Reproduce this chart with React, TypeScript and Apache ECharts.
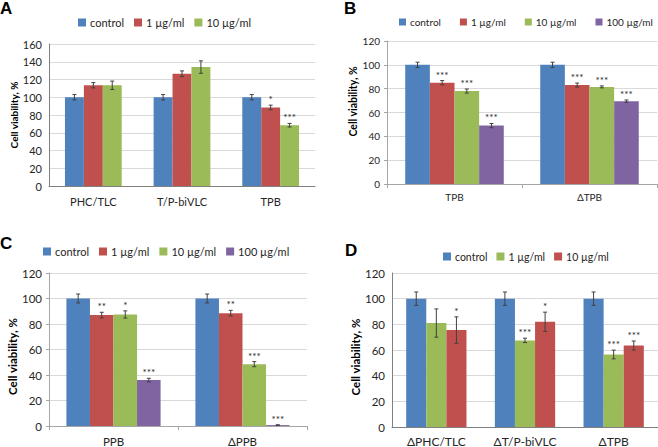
import React, { useEffect, useRef } from 'react';
import * as echarts from 'echarts';

const BLUE = '#4F81BD';
const RED = '#C0504D';
const GREEN = '#9BBB59';
const PURPLE = '#8064A2';

// Panel A
const catsA = ['PHC/TLC', 'T/P-biVLC', 'TPB'];
const namesA = ['control', '1 µg/ml', '10 µg/ml'];
const colorsA = [BLUE, RED, GREEN];
const valsA = [[100, 100, 100], [113.5, 126.5, 88.5], [113.5, 134, 68.5]];
const errsA = [[3, 3, 3], [3, 3.2, 2.6], [4.7, 7, 2]];
const starsA = [['', '', ''], ['', '', '*'], ['', '', '***']];

// Panel B
const catsB = ['TPB', 'ΔTPB'];
const namesB = ['control', '1 µg/ml', '10 µg/ml', '100 µg/ml'];
const colorsB = [BLUE, RED, GREEN, PURPLE];
const valsB = [[100, 100], [85, 83], [78, 81.5], [49, 69.5]];
const errsB = [[2.2, 2.2], [1.8, 1.7], [1.7, 0.8], [1.8, 1]];
const starsB = [['', ''], ['***', '***'], ['***', '***'], ['***', '***']];

// Panel C
const catsC = ['PPB', 'ΔPPB'];
const namesC = ['control', '1 µg/ml', '10 µg/ml', '100 µg/ml'];
const colorsC = [BLUE, RED, GREEN, PURPLE];
const valsC = [[100, 100], [87, 88.5], [87.5, 48.5], [36, 0.7]];
const errsC = [[3.5, 3.5], [2.2, 2.2], [2.8, 2], [1.4, 0.3]];
const starsC = [['', ''], ['**', '**'], ['*', '***'], ['***', '***']];

// Panel D
const catsD = ['ΔPHC/TLC', 'ΔT/P-biVLC', 'ΔTPB'];
const namesD = ['control', '1 µg/ml', '10 µg/ml'];
const colorsD = [BLUE, GREEN, RED];
const valsD = [[100, 100, 100], [81, 67.5, 56.5], [75.5, 82, 63.5]];
const errsD = [[5.2, 5.2, 5.2], [11, 1.7, 3.4], [10.3, 7.5, 3.5]];
const starsD = [['', '', ''], ['', '***', '***'], ['*', '*', '***']];

const yTicks120 = [0, 20, 40, 60, 80, 100, 120];
const yTicks160 = [0, 20, 40, 60, 80, 100, 120, 140, 160];

const FONT = 'Lato';

type PanelCfg = {
  id: string;
  idx: number;
  cats: string[];
  names: string[];
  colors: string[];
  vals: number[][];
  errs: number[][];
  stars: string[][];
  grid: { left: number; top: number; width: number; height: number };
  ymax: number;
  gap: number;
  legend: { left: number; top: number; gap: number; size: number; icon: number };
  tickFont: number;
  catFont: number;
  catMargin: number;
  nameFont: number;
  nameGap: number;
  namePad: number[];
  axisColor: string;
  ticks: boolean;
};

const panels: PanelCfg[] = [
  {
    id: 'A', idx: 0, cats: catsA, names: namesA, colors: colorsA, vals: valsA, errs: errsA, stars: starsA,
    grid: { left: 49, top: 44, width: 266, height: 142 }, ymax: yTicks160[yTicks160.length - 1], gap: 0.36,
    legend: { left: 78, top: 17, gap: 10, size: 11, icon: 8 },
    tickFont: 11, catFont: 11, catMargin: 10, nameFont: 10, nameGap: 28, namePad: [0, 0, 0, 0],
    axisColor: '#808080', ticks: false,
  },
  {
    id: 'B', idx: 1, cats: catsB, names: namesB, colors: colorsB, vals: valsB, errs: errsB, stars: starsB,
    grid: { left: 387, top: 41, width: 270, height: 143 }, ymax: yTicks120[yTicks120.length - 1], gap: 0.27,
    legend: { left: 399, top: 17, gap: 19, size: 10, icon: 7 },
    tickFont: 10, catFont: 10, catMargin: 8, nameFont: 10.5, nameGap: 24, namePad: [0, 0, 0, 22],
    axisColor: '#a6a6a6', ticks: true,
  },
  {
    id: 'C', idx: 2, cats: catsC, names: namesC, colors: colorsC, vals: valsC, errs: errsC, stars: starsC,
    grid: { left: 49, top: 273, width: 258, height: 154 }, ymax: yTicks120[yTicks120.length - 1], gap: 0.27,
    legend: { left: 43, top: 246, gap: 10, size: 11, icon: 8 },
    tickFont: 11.5, catFont: 11.5, catMargin: 9, nameFont: 11.5, nameGap: 27, namePad: [0, 14, 0, 0],
    axisColor: '#a6a6a6', ticks: true,
  },
  {
    id: 'D', idx: 3, cats: catsD, names: namesD, colors: colorsD, vals: valsD, errs: errsD, stars: starsD,
    grid: { left: 392, top: 273, width: 266, height: 154 }, ymax: yTicks120[yTicks120.length - 1], gap: 0.32,
    legend: { left: 443, top: 251, gap: 9, size: 10.5, icon: 8 },
    tickFont: 11.5, catFont: 12, catMargin: 8, nameFont: 11.5, nameGap: 30, namePad: [0, 14, 0, 0],
    axisColor: '#808080', ticks: false,
  },
];

function buildOption() {
  const grid: any[] = [];
  const xAxis: any[] = [];
  const yAxis: any[] = [];
  const legend: any[] = [];
  const series: any[] = [];
  const title: any[] = [];

  const titlePos: Record<string, { left: number; top: number }> = {
    A: { left: 0, top: 0 },
    B: { left: 344, top: 0 },
    C: { left: 0, top: 235 },
    D: { left: 345, top: 242 },
  };

  panels.forEach((p) => {
    grid.push({ ...p.grid, containLabel: false });
    title.push({
      text: p.id,
      left: titlePos[p.id].left,
      top: titlePos[p.id].top,
      padding: 0,
      textStyle: { fontFamily: 'Liberation Sans', fontWeight: 'bold', fontSize: 17, color: '#000' },
    });
    xAxis.push({
      type: 'category',
      gridIndex: p.idx,
      data: p.cats,
      axisLine: { show: true, lineStyle: { color: p.axisColor, width: 1 } },
      axisTick: { show: p.ticks, length: 4, lineStyle: { color: p.axisColor } },
      axisLabel: { fontFamily: FONT, fontSize: p.catFont, color: '#262626', margin: p.catMargin },
      splitLine: { show: false },
    });
    yAxis.push({
      type: 'value',
      gridIndex: p.idx,
      min: 0,
      max: p.ymax,
      interval: 20,
      name: 'Cell viability, %',
      nameLocation: 'middle',
      nameRotate: 90,
      nameGap: p.nameGap,
      nameTextStyle: {
        fontFamily: FONT,
        fontWeight: 'bold',
        fontSize: p.nameFont,
        color: '#000',
        padding: p.namePad,
      },
      axisLine: { show: true, lineStyle: { color: p.axisColor, width: 1 } },
      axisTick: { show: p.ticks, length: 3, lineStyle: { color: p.axisColor } },
      axisLabel: { fontFamily: FONT, fontSize: p.tickFont, color: '#262626', margin: 7 },
      splitLine: { show: true, lineStyle: { color: '#d9d9d9', width: 1 } },
    });
    legend.push({
      data: p.names.map((n) => p.id + '|' + n),
      left: p.legend.left,
      top: p.legend.top,
      width: 320,
      padding: 0,
      itemGap: p.legend.gap,
      itemWidth: p.legend.icon,
      itemHeight: p.legend.icon,
      icon: 'rect',
      selectedMode: false,
      formatter: (n: string) => n.split('|')[1],
      textStyle: { fontFamily: FONT, fontSize: p.legend.size, color: '#262626', padding: [0, 0, 0, -1] },
    });
    const n = p.names.length;
    p.names.forEach((name, k) => {
      series.push({
        type: 'bar',
        name: p.id + '|' + name,
        xAxisIndex: p.idx,
        yAxisIndex: p.idx,
        data: p.vals[k],
        itemStyle: { color: p.colors[k] },
        barGap: '0%',
        barCategoryGap: Math.round(p.gap * 100) + '%',
        emphasis: { disabled: true },
      });
      const starList = p.stars[k];
      series.push({
        type: 'custom',
        name: p.id + '-err-' + k,
        xAxisIndex: p.idx,
        yAxisIndex: p.idx,
        z: 5,
        clip: false,
        data: p.vals[k].map((v, ci) => [ci, v, p.errs[k][ci]]),
        renderItem: (params: any, api: any) => {
          const ci = api.value(0);
          const v = api.value(1);
          const e = api.value(2);
          const center = api.coord([ci, v]);
          const band = api.size([1, 0])[0];
          const total = band * (1 - p.gap);
          const bw = total / n;
          const x = center[0] - total / 2 + bw * (k + 0.5);
          const yTop = api.coord([ci, v + e])[1];
          const yBot = api.coord([ci, Math.max(0, v - e)])[1];
          const cap = 2;
          const stroke = { stroke: '#404040', lineWidth: 1 };
          const children: any[] = [
            { type: 'line', shape: { x1: x, y1: yTop, x2: x, y2: yBot }, style: stroke },
            { type: 'line', shape: { x1: x - cap, y1: yTop, x2: x + cap, y2: yTop }, style: stroke },
            { type: 'line', shape: { x1: x - cap, y1: yBot, x2: x + cap, y2: yBot }, style: stroke },
          ];
          const s = starList[params.dataIndex];
          if (s) {
            children.push({
              type: 'text',
              style: {
                text: s,
                x: x,
                y: yTop - 1,
                align: 'center',
                verticalAlign: 'bottom',
                fontFamily: FONT,
                fontSize: 10,
                fill: '#262626',
              },
            });
          }
          return { type: 'group', children };
        },
      });
    });
  });

  return {
    animation: false,
    backgroundColor: '#ffffff',
    title,
    grid,
    xAxis,
    yAxis,
    legend,
    series,
  };
}

export default function App() {
  const ref = useRef<HTMLDivElement>(null);
  useEffect(() => {
    document.body.style.margin = '0';
    if (!ref.current) return;
    const chart = echarts.init(ref.current, undefined, { renderer: 'svg' });
    chart.setOption(buildOption() as any);
    return () => {
      chart.dispose();
    };
  }, []);
  return (
    <div
      ref={ref}
      style={{ position: 'absolute', left: 0, top: 0, width: 658, height: 447, background: '#fff' }}
    />
  );
}
